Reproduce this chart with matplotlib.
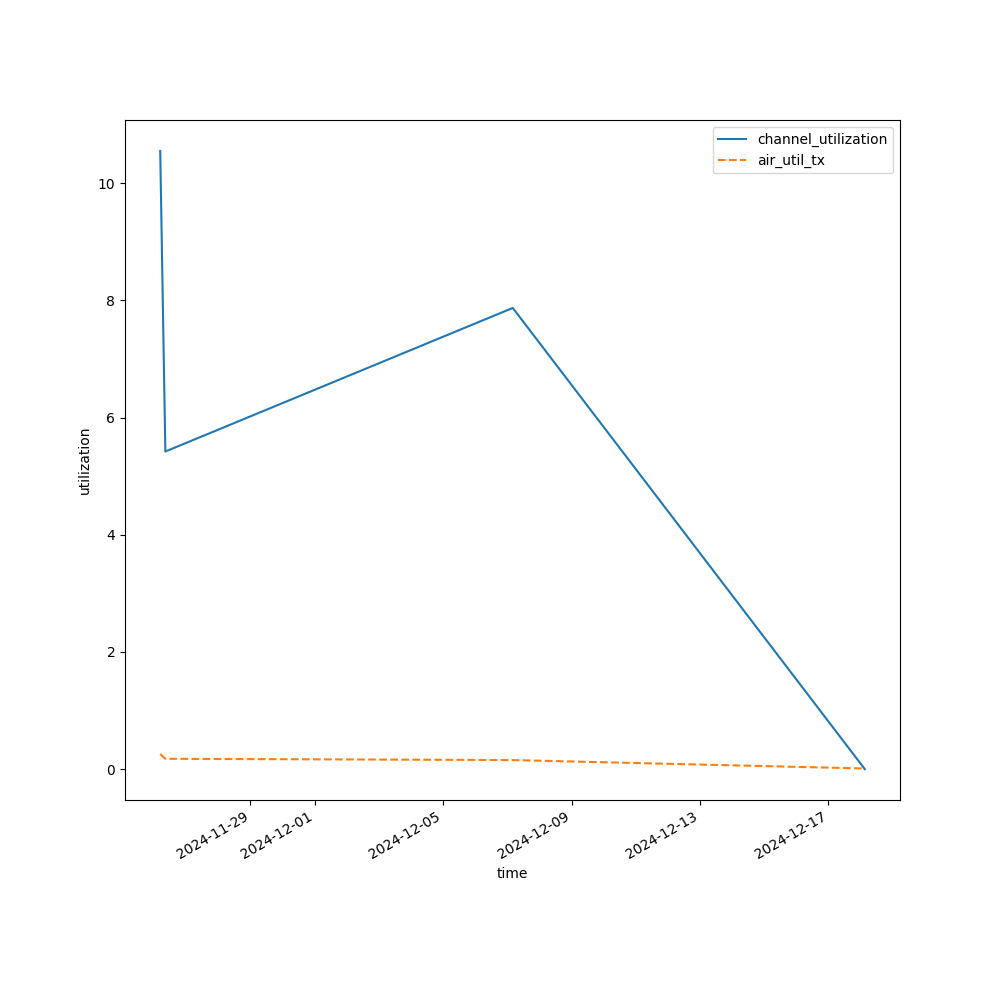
import matplotlib
matplotlib.use("Agg")
import matplotlib.pyplot as plt
import pandas as pd

times = ["2024-11-26 04:35", "2024-11-26 08:25", "2024-12-07 04:05", "2024-12-18 03:10"]
channel_utilization = [10.55, 5.42, 7.87, 0.0]
air_util_tx = [0.256, 0.176, 0.154, 0.01]

t = pd.to_datetime(times)

fig, ax = plt.subplots(figsize=(10, 10), dpi=100)
ax.plot(t, channel_utilization, label="channel_utilization")
ax.plot(t, air_util_tx, linestyle="--", label="air_util_tx")
ax.set_xlabel("time")
ax.set_ylabel("utilization")
ax.legend()
fig.autofmt_xdate()
fig.savefig("out.png")
